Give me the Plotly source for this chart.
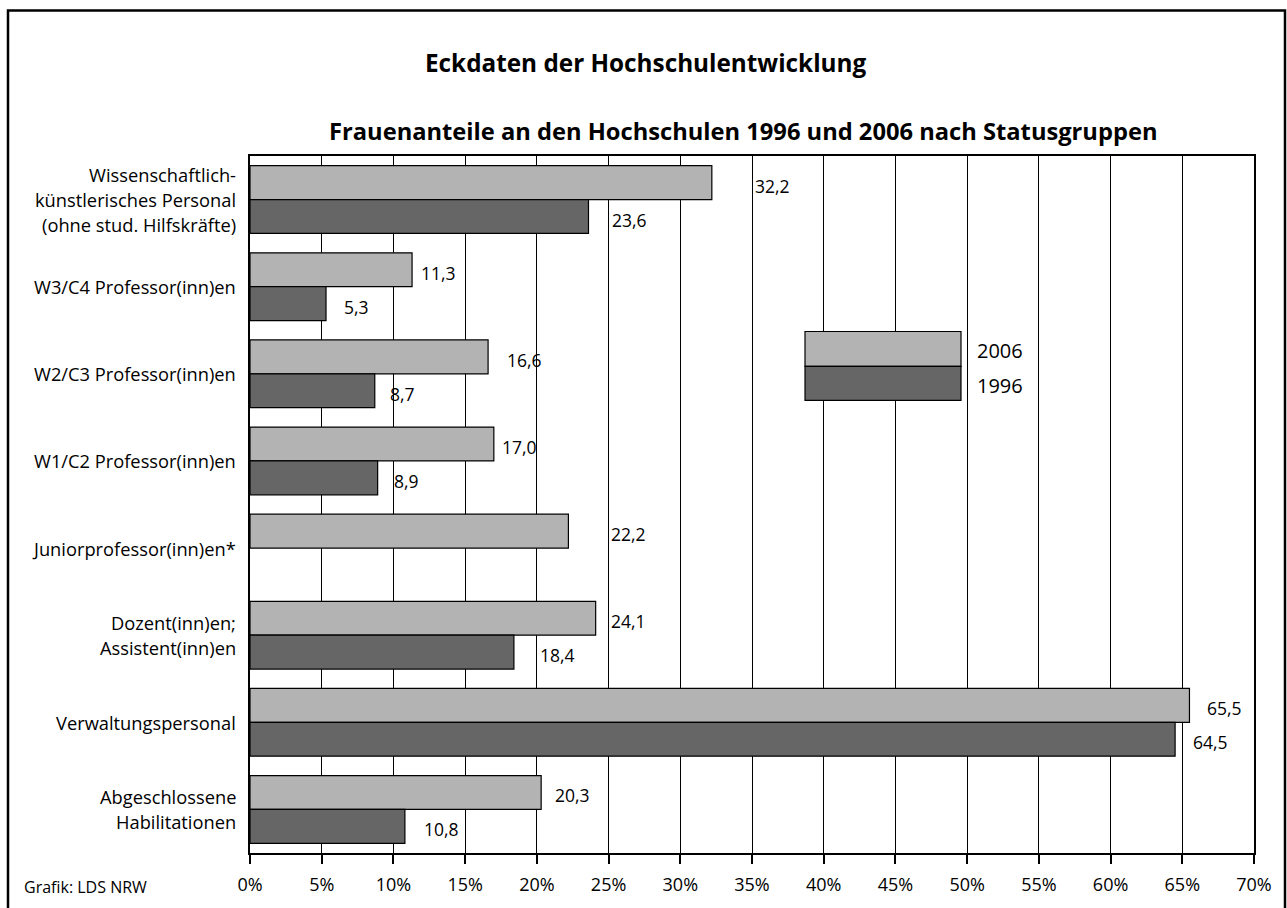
import plotly.graph_objects as go

# ---- data ----
categories = [
    "Wissenschaftlich-\nkünstlerisches Personal\n(ohne stud. Hilfskräfte)",
    "W3/C4 Professor(inn)en",
    "W2/C3 Professor(inn)en",
    "W1/C2 Professor(inn)en",
    "Juniorprofessor(inn)en*",
    "Dozent(inn)en;\nAssistent(inn)en",
    "Verwaltungspersonal",
    "Abgeschlossene\nHabilitationen",
]
values_2006 = [32.2, 11.3, 16.6, 17.0, 22.2, 24.1, 65.5, 20.3]
values_1996 = [23.6, 5.3, 8.7, 8.9, None, 18.4, 64.5, 10.8]
labels_2006 = ["32,2", "11,3", "16,6", "17,0", "22,2", "24,1", "65,5", "20,3"]
labels_1996 = ["23,6", "5,3", "8,7", "8,9", "", "18,4", "64,5", "10,8"]
series_names = ["2006", "1996"]
x_ticks = list(range(0, 75, 5))

# ---- layout settings (label anchor positions on x axis, in %) ----
label_x_2006 = [35.1, 11.8, 17.8, 17.4, 25.0, 25.0, 66.6, 21.1]
label_x_1996 = [25.1, 6.4, 9.6, 9.9, 0, 20.1, 65.6, 12.0]

FONT = "Open Sans"
light = "#b3b3b3"
dark = "#666666"

W, H = 1287, 908
L, R, T, B = 250, 1254, 156, 855
pw, ph = R - L, B - T

def px_x(X):
    return (X - L) / pw

def px_y(Y):
    return (B - Y) / ph

fig = go.Figure()
for name, vals, col in [(series_names[0], values_2006, light), (series_names[1], values_1996, dark)]:
    fig.add_trace(go.Bar(
        y=list(range(len(categories))), x=vals, orientation="h", name=name,
        marker=dict(color=col, line=dict(color="#000000", width=1.2)),
        showlegend=False, hoverinfo="x+name",
    ))

bargap = 0.222
half = (1 - bargap) / 4  # offset of bar centre from category centre

annotations = []
for i in range(len(categories)):
    annotations.append(dict(x=label_x_2006[i], y=i - half, xref="x", yref="y",
                            text=labels_2006[i], showarrow=False, xanchor="left",
                            yanchor="middle", yshift=-3,
                            font=dict(family=FONT, size=17.5, color="#000")))
    if labels_1996[i]:
        annotations.append(dict(x=label_x_1996[i], y=i + half, xref="x", yref="y",
                                text=labels_1996[i], showarrow=False, xanchor="left",
                                yanchor="middle", yshift=-3,
                                font=dict(family=FONT, size=17.5, color="#000")))
    lines = categories[i].split("\n")
    n = len(lines)
    for j, ln in enumerate(lines):
        annotations.append(dict(x=px_x(238), y=i, xref="paper", yref="y",
                                text=ln, showarrow=False, xanchor="right",
                                yanchor="middle", yshift=((n - 1) / 2 - j) * 25,
                                font=dict(family=FONT, size=18.3, color="#000")))

# titles
annotations.append(dict(x=px_x(645), y=px_y(62), xref="paper", yref="paper",
                        text="<b>Eckdaten der Hochschulentwicklung</b>", showarrow=False,
                        xanchor="center", yanchor="middle",
                        font=dict(family=FONT, size=24.3, color="#000")))
annotations.append(dict(x=px_x(743), y=px_y(131), xref="paper", yref="paper",
                        text="<b>Frauenanteile an den Hochschulen 1996 und 2006 nach Statusgruppen</b>",
                        showarrow=False, xanchor="center", yanchor="middle",
                        font=dict(family=FONT, size=23.7, color="#000")))
annotations.append(dict(x=px_x(22), y=px_y(889), xref="paper", yref="paper",
                        text="Grafik: LDS NRW", showarrow=False,
                        xanchor="left", yanchor="middle",
                        font=dict(family=FONT, size=16, color="#000")))

# legend (box + labels)
shapes = [
    dict(type="rect", xref="paper", yref="paper", x0=px_x(805), x1=px_x(961),
         y0=px_y(367), y1=px_y(332), fillcolor=light, line=dict(color="#000", width=1.2)),
    dict(type="rect", xref="paper", yref="paper", x0=px_x(805), x1=px_x(961),
         y0=px_y(401), y1=px_y(367), fillcolor=dark, line=dict(color="#000", width=1.2)),
    # outer frame
    dict(type="rect", xref="paper", yref="paper", x0=px_x(8), x1=px_x(1285),
         y0=px_y(915), y1=px_y(10), fillcolor="rgba(0,0,0,0)",
         line=dict(color="#000", width=2.5), layer="above"),
]
annotations.append(dict(x=px_x(975), y=px_y(351), xref="paper", yref="paper",
                        text=series_names[0], showarrow=False, xanchor="left", yanchor="middle",
                        font=dict(family=FONT, size=20, color="#000")))
annotations.append(dict(x=px_x(975), y=px_y(386), xref="paper", yref="paper",
                        text=series_names[1], showarrow=False, xanchor="left", yanchor="middle",
                        font=dict(family=FONT, size=20, color="#000")))

fig.update_layout(
    width=W, height=H,
    margin=dict(l=L, r=W - R, t=T, b=H - B, pad=0),
    paper_bgcolor="white", plot_bgcolor="white",
    barmode="group", bargap=bargap, bargroupgap=0,
    font=dict(family=FONT, size=18, color="#000"),
    annotations=annotations, shapes=shapes,
    xaxis=dict(range=[0, 70], tickvals=x_ticks, ticktext=[f"{v}%" for v in x_ticks],
               showgrid=True, gridcolor="#000", gridwidth=1,
               showline=True, linecolor="#000", linewidth=1.5, mirror=True,
               ticks="outside", ticklen=9, tickwidth=2, tickcolor="#000",
               ticklabelstandoff=6,
               tickfont=dict(family=FONT, size=18, color="#000"), zeroline=False,
               fixedrange=True),
    yaxis=dict(range=[len(categories) - 0.5, -0.5], showticklabels=False,
               showgrid=False, showline=True, linecolor="#000", linewidth=1.5,
               mirror=True, ticks="", zeroline=False, fixedrange=True),
)

fig.write_html("out.html", config={"displayModeBar": False},
               post_script="document.body.style.margin='0';document.body.style.overflow='hidden';")
